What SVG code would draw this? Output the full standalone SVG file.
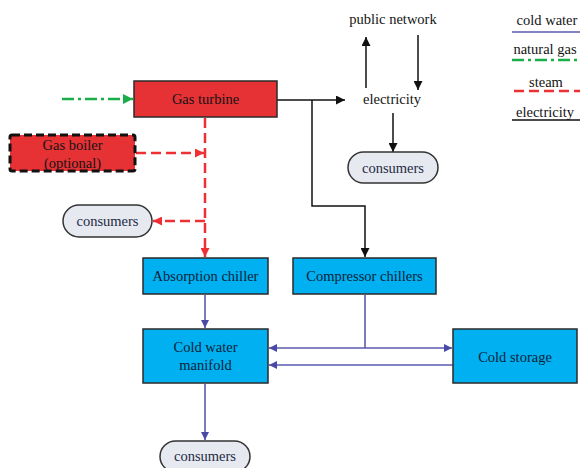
<svg xmlns="http://www.w3.org/2000/svg" width="580" height="468" viewBox="0 0 580 468" font-family="'Liberation Serif', 'DejaVu Serif', serif">
  <style>
    text { font-family: "Liberation Serif", "DejaVu Serif", serif; font-size: 14.5px; text-anchor: middle; fill: #141414; }
    .red { fill: #E63135; stroke: #2a2a2a; stroke-width: 1.5; }
    .blue { fill: #00B0F0; stroke: #2a2a2a; stroke-width: 1.5; }
    .pill { fill: #E6E9EF; stroke: #333; stroke-width: 1.5; }
    .elec { fill: none; stroke: #111; stroke-width: 1.5; }
    .cold { fill: none; stroke: #5A5AAE; stroke-width: 1.6; }
    .steam { fill: none; stroke: #EE3035; stroke-width: 2.5; stroke-dasharray: 10 5; }
    .gas { fill: none; stroke: #19AE4A; stroke-width: 2.5; stroke-dasharray: 12 4 3 4; }
    .bluetxt { fill: #0B2238; }
    .pilltxt { fill: #1E2A44; }
  </style>
  <defs>
    <marker id="ahBlack" viewBox="0 0 10 10" refX="10" refY="5" markerWidth="9" markerHeight="9" markerUnits="userSpaceOnUse" orient="auto">
      <path d="M0,0 L10,5 L0,10 z" fill="#111"/>
    </marker>
    <marker id="ahBlue" viewBox="0 0 10 10" refX="10" refY="5" markerWidth="8" markerHeight="8" markerUnits="userSpaceOnUse" orient="auto">
      <path d="M0,0 L10,5 L0,10 z" fill="#4A4AA6"/>
    </marker>
    <marker id="ahRed" viewBox="0 0 10 10" refX="10" refY="5" markerWidth="9" markerHeight="9" markerUnits="userSpaceOnUse" orient="auto">
      <path d="M0,0 L10,5 L0,10 z" fill="#EE3035"/>
    </marker>
    <marker id="ahGreen" viewBox="0 0 10 10" refX="10" refY="5" markerWidth="10" markerHeight="10" markerUnits="userSpaceOnUse" orient="auto">
      <path d="M0,0 L10,5 L0,10 z" fill="#19AE4A"/>
    </marker>
  </defs>

  <!-- connectors -->
  <g id="connectors">
    <!-- natural gas feed -->
    <line class="gas" x1="62" y1="99" x2="133" y2="99" marker-end="url(#ahGreen)"/>
    <!-- steam -->
    <line class="steam" x1="205" y1="118" x2="205" y2="257" marker-end="url(#ahRed)"/>
    <line class="steam" x1="136" y1="153" x2="204" y2="153" marker-end="url(#ahRed)"/>
    <line class="steam" x1="205" y1="221" x2="153" y2="221" marker-end="url(#ahRed)"/>
    <!-- electricity -->
    <line class="elec" x1="277" y1="100" x2="345" y2="100" marker-end="url(#ahBlack)"/>
    <polyline class="elec" points="312,100 312,206 365,206 365,257" marker-end="url(#ahBlack)"/>
    <line class="elec" x1="366" y1="88" x2="366" y2="37" marker-end="url(#ahBlack)"/>
    <line class="elec" x1="418" y1="35" x2="418" y2="90" marker-end="url(#ahBlack)"/>
    <line class="elec" x1="393" y1="113" x2="393" y2="152" marker-end="url(#ahBlack)"/>
    <!-- cold water -->
    <line class="cold" x1="205" y1="295" x2="205" y2="328" marker-end="url(#ahBlue)"/>
    <line class="cold" x1="365" y1="295" x2="365" y2="348"/>
    <line class="cold" x1="365" y1="348" x2="269" y2="348" marker-end="url(#ahBlue)"/>
    <line class="cold" x1="365" y1="348" x2="452" y2="348" marker-end="url(#ahBlue)"/>
    <line class="cold" x1="453" y1="365" x2="269" y2="365" marker-end="url(#ahBlue)"/>
    <line class="cold" x1="205" y1="384" x2="205" y2="440" marker-end="url(#ahBlue)"/>
  </g>

  <!-- nodes -->
  <g id="gas-turbine">
    <rect class="red" x="134" y="81" width="143" height="36"/>
    <text x="205.5" y="104" fill="#2a0505">Gas turbine</text>
  </g>
  <g id="gas-boiler">
    <rect x="10" y="135" width="125" height="36" rx="2" fill="#E63135" stroke="#111" stroke-width="3" stroke-dasharray="8 4"/>
    <text x="72.5" y="150" fill="#2a0505">Gas boiler</text>
    <text x="72.5" y="168" fill="#2a0505">(optional)</text>
  </g>
  <g id="public-network">
    <text x="393" y="24">public network</text>
  </g>
  <g id="electricity">
    <text x="392" y="104">electricity</text>
  </g>
  <g id="consumers-electricity">
    <rect class="pill" x="348" y="152" width="90" height="31" rx="15.5"/>
    <text class="pilltxt" x="393" y="172.5">consumers</text>
  </g>
  <g id="consumers-steam">
    <rect class="pill" x="63" y="205" width="89" height="32" rx="16"/>
    <text class="pilltxt" x="107.5" y="226">consumers</text>
  </g>
  <g id="absorption-chiller">
    <rect class="blue" x="143" y="258" width="125" height="36"/>
    <text class="bluetxt" x="205.5" y="281">Absorption chiller</text>
  </g>
  <g id="compressor-chillers">
    <rect class="blue" x="293" y="258" width="143" height="36"/>
    <text class="bluetxt" x="364.5" y="281">Compressor chillers</text>
  </g>
  <g id="cold-water-manifold">
    <rect class="blue" x="143" y="329" width="125" height="54"/>
    <text class="bluetxt" x="205.5" y="352">Cold water</text>
    <text class="bluetxt" x="205.5" y="370">manifold</text>
  </g>
  <g id="cold-storage">
    <rect class="blue" x="453" y="329" width="124" height="54"/>
    <text class="bluetxt" x="515" y="362">Cold storage</text>
  </g>
  <g id="consumers-cold">
    <rect class="pill" x="160" y="441" width="90" height="31" rx="15.5"/>
    <text class="pilltxt" x="205" y="461">consumers</text>
  </g>

  <!-- legend -->
  <g id="legend">
    <text x="547" y="25">cold water</text>
    <line x1="512" y1="32" x2="580" y2="32" stroke="#5A5AAE" stroke-width="1.6"/>
    <text x="545" y="54">natural gas</text>
    <line class="gas" x1="512" y1="60" x2="580" y2="60"/>
    <text x="546" y="87">steam</text>
    <line class="steam" x1="514" y1="91" x2="580" y2="91"/>
    <text x="545" y="117">electricity</text>
    <line x1="512" y1="120" x2="580" y2="120" stroke="#111" stroke-width="1.5"/>
  </g>
</svg>
